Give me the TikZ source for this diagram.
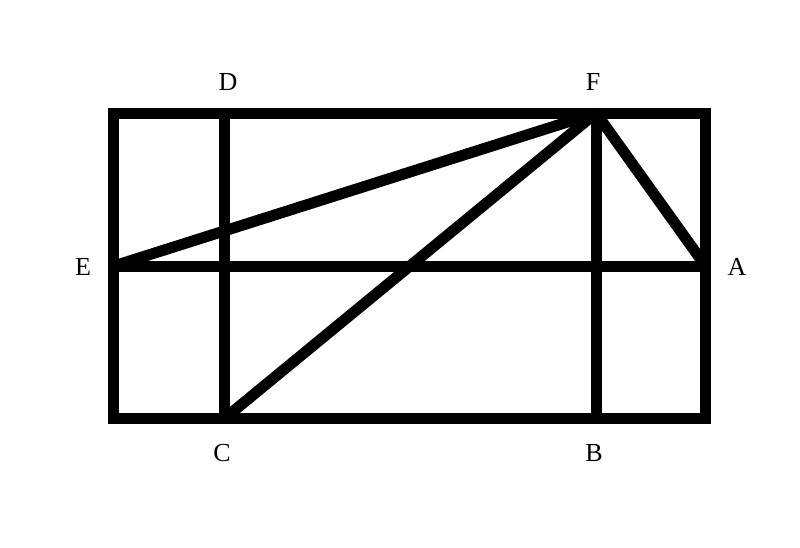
\documentclass[tikz,border=0pt]{standalone}
\usepackage{fontspec}
\setmainfont{Liberation Serif}
\begin{document}
\begin{tikzpicture}[x=1pt,y=-1pt,
  thick line/.style={line width=11pt,black},
  lbl/.style={font=\fontsize{26}{30}\selectfont,inner sep=0pt}]
\useasboundingbox (0,0) rectangle (800,547);
\coordinate (TL) at (113.8,113);
\coordinate (BR) at (705.5,418.3);
\coordinate (D) at (224.7,113);
\coordinate (C) at (224.7,418.3);
\coordinate (F) at (596,113);
\coordinate (B) at (596,418.3);
\coordinate (E) at (113.8,266);
\coordinate (A) at (705.5,266);
\draw[thick line] (TL) rectangle (BR);
\draw[thick line] (D) -- (C);
\draw[thick line] (F) -- (B);
\draw[thick line] (E) -- (A);
\draw[thick line] (E) -- (F);
\draw[thick line] (F) -- (C);
\draw[thick line] (F) -- (A);
\node[lbl] (lD) at (228,82) {D};
\node[lbl] (lF) at (593,82) {F};
\node[lbl] (lE) at (83,267) {E};
\node[lbl] (lA) at (737,267) {A};
\node[lbl] (lC) at (222,453) {C};
\node[lbl] (lB) at (594,453) {B};
\end{tikzpicture}
\end{document}
